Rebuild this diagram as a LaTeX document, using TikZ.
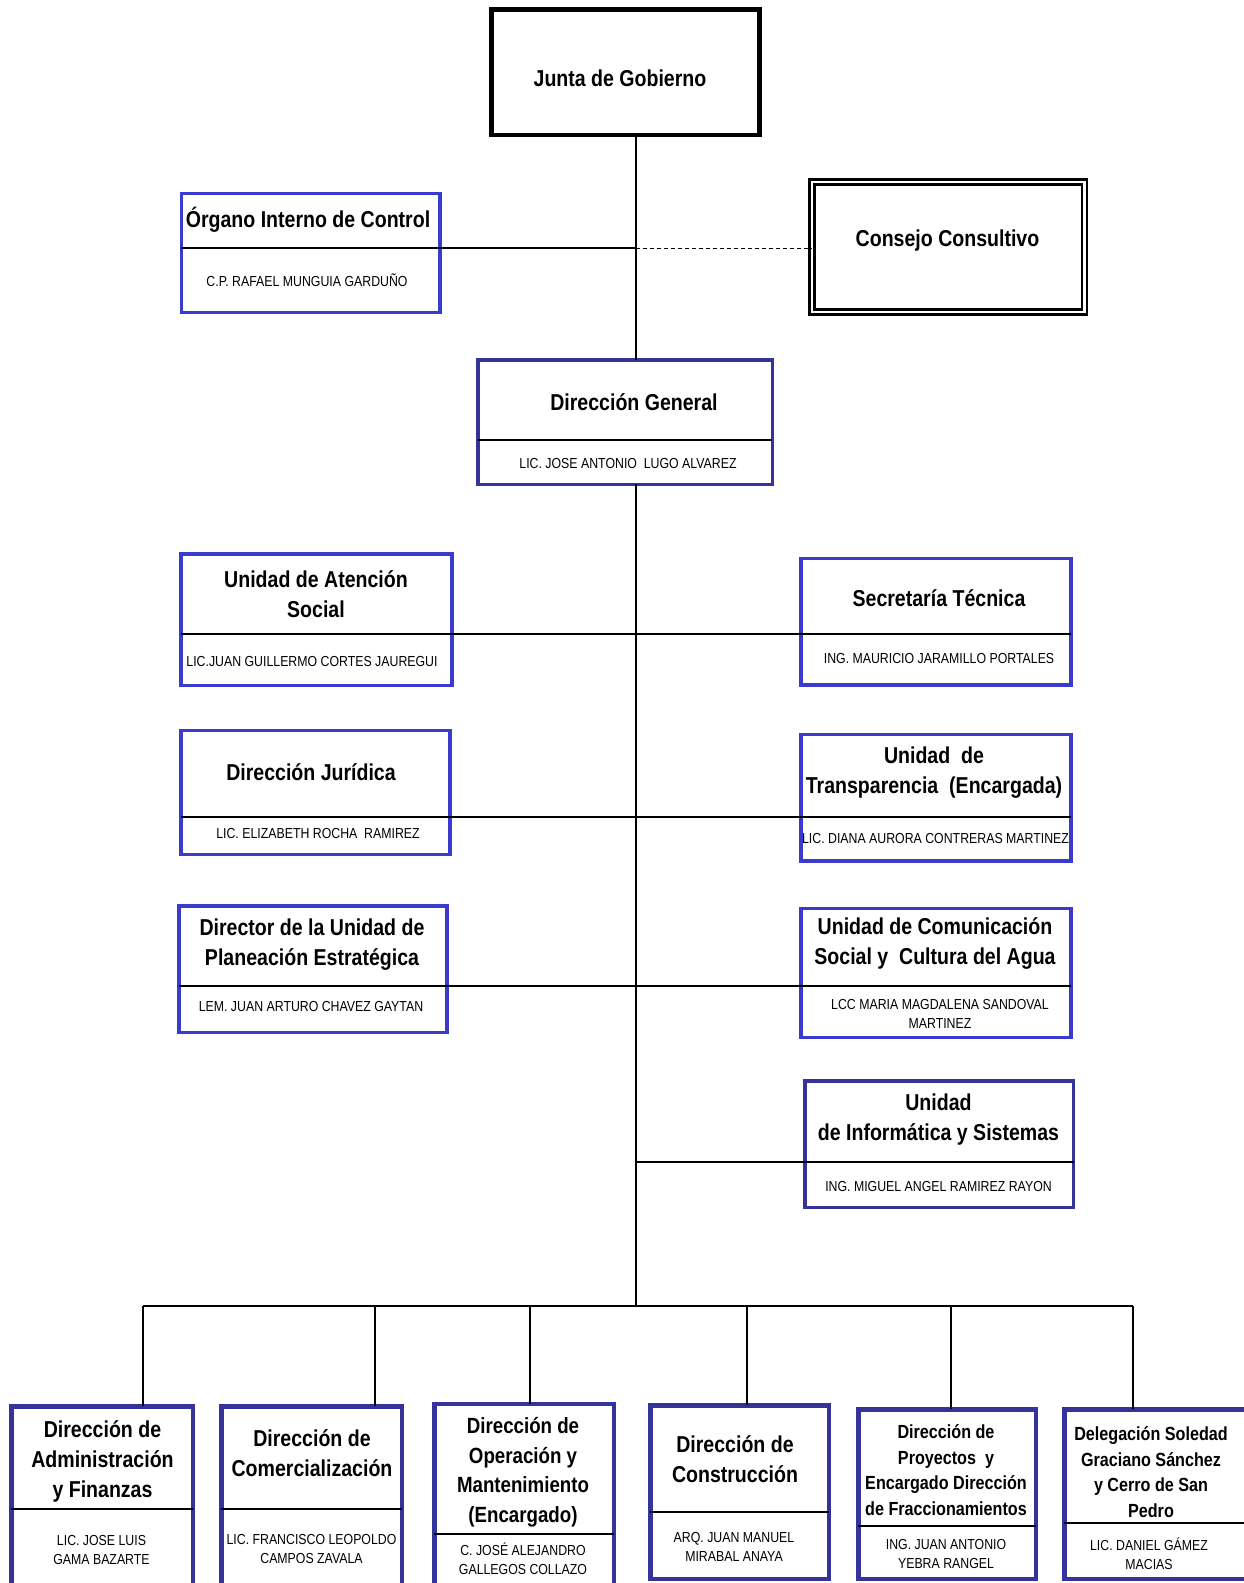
\documentclass[tikz,border=0pt]{standalone}
\usepackage{fontspec}
\setmainfont{Liberation Sans}[FakeStretch=0.85]
\definecolor{bblue}{RGB}{51,51,153}
\definecolor{lblue}{RGB}{58,58,204}
\begin{document}
\begin{tikzpicture}[x=1pt,y=-1pt,
  bbox/.style={draw=bblue,line width=3.5pt,fill=white,inner sep=0pt,outer sep=0pt,rectangle},
  lbox/.style={bbox,draw=lblue},
  dbox/.style={bbox,line width=4.5pt},
  conn/.style={draw=black,line width=2pt},
  divl/.style={draw=black,line width=2.2pt},
  dsh/.style={draw=black,line width=1.5pt,dash pattern=on 4pt off 3pt},
  ttl/.style={font=\fontsize{23}{30}\selectfont\bfseries,align=center,inner sep=0pt},
  ttlm/.style={font=\fontsize{22}{29.5}\selectfont\bfseries,align=center,inner sep=0pt},
  ttls/.style={font=\fontsize{19}{25.5}\selectfont\bfseries,align=center,inner sep=0pt},
  nm/.style={font=\fontsize{14.5}{19}\selectfont,align=center,inner sep=0pt}]
\useasboundingbox (0,0) rectangle (1244,1583);

% ---- top ----
\node[draw=black,line width=4.5pt,minimum width=268pt,minimum height=125.5pt,inner sep=0pt,outer sep=0pt] (junta) at (625.25,72) {};
\node[ttl] (junta-t) at (620,78) {Junta de Gobierno};

\node[lbox,minimum width=258.5pt,minimum height=118.75pt] (organo) at (310.5,252.9) {};
\node[ttl] (organo-t) at (308,220) {Órgano Interno de Control};
\node[nm] (organo-n) at (307,280) {C.P. RAFAEL MUNGUIA GARDUÑO};

\node[draw=black,double,line width=2.5pt,double distance=2.5pt,fill=white,minimum width=272.5pt,minimum height=130.25pt,inner sep=0pt,outer sep=0pt] (consejo) at (948,246.9) {};
\node[ttl] (consejo-t) at (947.5,241) {Consejo Consultivo};

\node[bbox,minimum width=294.5pt,minimum height=124.5pt] (dg) at (625,422) {};
\node[ttl] (dg-t) at (634,402) {Dirección General};
\node[nm] (dg-n) at (628,463) {LIC. JOSE ANTONIO \ LUGO ALVAREZ};

\coordinate (tr) at (636,1306);

% ---- middle ----
\node[lbox,minimum width=271pt,minimum height=131.5pt] (uas) at (316.25,619.75) {};
\node[ttl] (uas-t) at (316,594) {Unidad de Atención\\Social};
\node[nm] (uas-n) at (312,661.5) {LIC.JUAN GUILLERMO CORTES JAUREGUI};

\node[lbox,minimum width=270.1pt,minimum height=126.5pt] (st) at (935.8,621.7) {};
\node[ttl] (st-t) at (939,598) {Secretaría Técnica};
\node[nm] (st-n) at (939,658) {ING. MAURICIO JARAMILLO PORTALES};

\node[lbox,minimum width=269.2pt,minimum height=123.8pt] (dj) at (315.35,792.35) {};
\node[ttl] (dj-t) at (311,772) {Dirección Jurídica};
\node[nm] (dj-n) at (318,833) {LIC. ELIZABETH ROCHA \ RAMIREZ};

\node[lbox,minimum width=270.1pt,minimum height=126.5pt] (ut) at (935.8,797.7) {};
\node[ttl] (ut-t) at (934,773) {Unidad \ de\\Transparencia \ (Encargada)};
\node[nm] (ut-n) at (935.5,838.5) {LIC. DIANA AURORA CONTRERAS MARTINEZ};

\node[lbox,minimum width=268.3pt,minimum height=126.5pt] (dp) at (312.9,969) {};
\node[ttl] (dp-t) at (312,944.5) {Director de la Unidad de\\Planeación Estratégica};
\node[nm] (dp-n) at (311,1006.5) {LEM. JUAN ARTURO CHAVEZ GAYTAN};

\node[lbox,minimum width=270.1pt,minimum height=128.8pt] (uc) at (935.8,972.85) {};
\node[ttl] (uc-t) at (935,943.5) {Unidad de Comunicación\\Social y \ Cultura del Agua};
\node[nm] (uc-n) at (940,1013.5) {LCC MARIA MAGDALENA SANDOVAL\\MARTINEZ};

\node[bbox,minimum width=268.9pt,minimum height=126.5pt] (ui) at (939.2,1144.3) {};
\node[ttl] (ui-t) at (938.5,1120) {Unidad\\de Informática y Sistemas};
\node[nm] (ui-n) at (938.5,1186) {ING. MIGUEL ANGEL RAMIREZ RAYON};

% ---- bottom ----
\node[dbox,minimum width=181.5pt,minimum height=191.5pt] (b1) at (102,1502) {};
\node[ttl] (b1-t) at (102.5,1461) {Dirección de\\Administración\\y Finanzas};
\node[nm] (b1-n) at (101.5,1549.5) {LIC. JOSE LUIS\\GAMA BAZARTE};

\node[dbox,minimum width=180.5pt,minimum height=191.5pt] (b2) at (311.5,1502) {};
\node[ttl] (b2-t) at (312,1453) {Dirección de\\Comercialización};
\node[nm] (b2-n) at (311.5,1548.5) {LIC. FRANCISCO LEOPOLDO\\CAMPOS ZAVALA};

\node[dbox,minimum width=179.5pt,minimum height=193.8pt] (b3) at (524,1501) {};
\node[ttlm] (b3-t) at (523,1472) {Dirección de\\Operación y\\Mantenimiento\\(Encargado)};
\node[nm] (b3-n) at (523,1559) {C. JOSÉ ALEJANDRO\\GALLEGOS COLLAZO};

\node[dbox,minimum width=178.5pt,minimum height=173.5pt] (b4) at (739.5,1492) {};
\node[ttl] (b4-t) at (735,1459.5) {Dirección de\\Construcción};
\node[nm] (b4-n) at (734,1546.5) {ARQ. JUAN MANUEL\\MIRABAL ANAYA};

\node[dbox,minimum width=177.5pt,minimum height=169.5pt] (b5) at (947,1494) {};
\node[ttls] (b5-t) at (946,1470) {Dirección de\\Proyectos \ y\\Encargado Dirección\\de Fraccionamientos};
\node[nm] (b5-n) at (946,1553.5) {ING. JUAN ANTONIO\\YEBRA RANGEL};

\node[dbox,minimum width=181.5pt,minimum height=169.5pt] (b6) at (1155,1494) {};
\node[ttls] (b6-t) at (1151,1472) {Delegación Soledad\\Graciano Sánchez\\y Cerro de San\\Pedro};
\node[nm] (b6-n) at (1149,1553.5) {LIC. DANIEL GÁMEZ\\MACIAS};

% ---- connectors ----
\draw[conn] (junta.south -| tr) -- (dg.north -| tr);
\draw[conn] (dg.south -| tr) -- (tr);
\draw[conn] (organo.west |- 0,248.3) -- (tr |- 0,248.3);
\draw[dsh] (tr |- 0,248.3) -- (consejo.west |- 0,248.3);
\draw[divl] (dg.west |- 0,440) -- (dg.east |- 0,440);
\draw[conn] (uas.west |- 0,634.3) -- (st.east |- 0,634.3);
\draw[conn] (dj.west |- 0,817) -- (ut.east |- 0,817);
\draw[conn] (dp.west |- 0,986) -- (uc.east |- 0,986);
\draw[conn] (tr |- 0,1162.3) -- (ui.east |- 0,1162.3);

\coordinate (k1) at (143,1306);
\coordinate (k2) at (375.4,1306);
\coordinate (k3) at (530.2,1306);
\coordinate (k4) at (746.8,1306);
\coordinate (k5) at (950.8,1306);
\coordinate (k6) at (1132.5,1306);
\draw[conn,line width=2.5pt] (k1) -- (k6);
\draw[conn] (k1) -- (k1 |- b1.north);
\draw[conn] (k2) -- (k2 |- b2.north);
\draw[conn] (k3) -- (k3 |- b3.north);
\draw[conn] (k4) -- (k4 |- b4.north);
\draw[conn] (k5) -- (k5 |- b5.north);
\draw[conn] (k6) -- (k6 |- b6.north);

\draw[divl] (b1.west |- 0,1509) -- (b1.east |- 0,1509);
\draw[divl] (b2.west |- 0,1509) -- (b2.east |- 0,1509);
\draw[divl] (b3.west |- 0,1534) -- (b3.east |- 0,1534);
\draw[divl] (b4.west |- 0,1512) -- (b4.east |- 0,1512);
\draw[divl] (b5.west |- 0,1526) -- (b5.east |- 0,1526);
\draw[divl] (b6.west |- 0,1523) -- (b6.east |- 0,1523);
\end{tikzpicture}
\end{document}
